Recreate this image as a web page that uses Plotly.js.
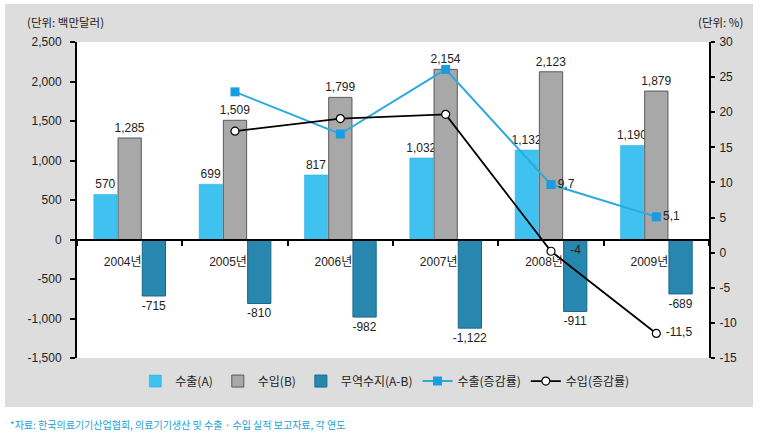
<!DOCTYPE html>
<html>
<head>
<meta charset="utf-8">
<script src="https://cdn.plot.ly/plotly-3.0.1.min.js"></script>
<style>
  html, body { margin: 0; padding: 0; background: #ffffff; }
  #panel { position: absolute; left: 5px; top: 4px; width: 748px; height: 403px; background: #dddddd; }
  #chart { position: absolute; left: 0; top: 0; width: 764px; height: 442px; }
</style>
</head>
<body>
<div id="panel"></div>
<div id="chart"></div>
<script>
// ---- data ----
const years = ['2004년', '2005년', '2006년', '2007년', '2008년', '2009년'];
const exportsA = [570, 699, 817, 1032, 1132, 1190];
const importsB = [1285, 1509, 1799, 2154, 2123, 1879];
const balanceAB = [-715, -810, -982, -1122, -911, -689];
const exportGrowth = [null, 22.9, 16.9, 26.1, 9.7, 5.1];
const importGrowth = [null, 17.3, 19.1, 19.7, 0.2, -11.5];
const exportGrowthLabels = ['', '', '', '', '9,7', '5,1'];
const importGrowthLabels = ['', '', '', '', '\u00a0\u00a0\u00a0\u00a0-4', '\u00a0-11,5'];
const leftTickVals = [-1500, -1000, -500, 0, 500, 1000, 1500, 2000, 2500];
const leftTickText = ['-1,500', '-1,000', '-500', '0', '500', '1,000', '1,500', '2,000', '2,500'];
const rightTickVals = [-15, -10, -5, 0, 5, 10, 15, 20, 25, 30];
const rightTickText = ['-15', '-10', '-5', '0', '5', '10', '15', '20', '25', '30'];

const fmt = v => (v < 0 ? '-' : '') + Math.abs(v).toString().replace(/\B(?=(\d{3})+(?!\d))/g, ',');

const FONT = 'Liberation Sans, Arial, Noto Sans CJK KR, sans-serif';
const KFONT = 'Noto Sans CJK KR, Liberation Sans, sans-serif';
const TXT = '#222222';

const barCommon = {
  type: 'bar',
  textposition: 'outside',
  constraintext: 'none',
  cliponaxis: false,
  textfont: { family: FONT, size: 12, color: TXT },
  hoverinfo: 'skip'
};

const traces = [
  Object.assign({}, barCommon, {
    name: '수출(A)', x: years, y: exportsA, text: exportsA.map(fmt),
    marker: { color: '#40c2f0', line: { color: '#22a8e0', width: 0.5 } }
  }),
  Object.assign({}, barCommon, {
    name: '수입(B)', x: years, y: importsB, text: importsB.map(fmt),
    marker: { color: '#a8a8a8', line: { color: '#5a5a5a', width: 1 } }
  }),
  Object.assign({}, barCommon, {
    name: '무역수지(A-B)', x: years, y: balanceAB, text: balanceAB.map(fmt),
    marker: { color: '#2887af', line: { color: '#17698c', width: 1 } }
  }),
  {
    type: 'scatter', mode: 'lines+markers+text', name: '수출(증감률)',
    x: years, y: exportGrowth, yaxis: 'y2', text: exportGrowthLabels,
    textposition: 'middle right', cliponaxis: false,
    textfont: { family: FONT, size: 12, color: TXT },
    line: { color: '#2aaade', width: 2 },
    marker: { symbol: 'square', size: 9, color: '#1b9ce0' },
    hoverinfo: 'skip'
  },
  {
    type: 'scatter', mode: 'lines+markers+text', name: '수입(증감률)',
    x: years, y: importGrowth, yaxis: 'y2', text: importGrowthLabels,
    textposition: 'middle right', cliponaxis: false,
    textfont: { family: FONT, size: 12, color: TXT },
    line: { color: '#000000', width: 1.8 },
    marker: { symbol: 'circle', size: 8, color: '#ffffff', line: { color: '#000000', width: 1.2 } },
    hoverinfo: 'skip'
  }
];

const layout = {
  width: 764, height: 442,
  margin: { l: 77, r: 55, t: 42, b: 84 },
  paper_bgcolor: 'rgba(0,0,0,0)',
  plot_bgcolor: '#ffffff',
  font: { family: FONT, size: 12, color: TXT },
  barmode: 'group',
  bargap: 0.31,
  bargroupgap: 0.04,
  showlegend: true,
  legend: {
    orientation: 'h', x: 0.487, xanchor: 'center', y: -0.073, yanchor: 'middle',
    bgcolor: 'rgba(0,0,0,0)', font: { family: KFONT, size: 12, color: TXT },
    traceorder: 'normal'
  },
  xaxis: {
    type: 'category', anchor: 'free', position: 0.375,
    range: [-0.5, 5.5], fixedrange: true,
    showline: true, linecolor: '#000000', linewidth: 2,
    ticks: 'outside', tickson: 'boundaries', ticklen: 5, tickwidth: 2, tickcolor: '#000000',
    showgrid: false, zeroline: false,
    ticklabelshift: -7, ticklabelstandoff: 11,
    tickfont: { family: FONT, size: 12, color: TXT }
  },
  yaxis: {
    range: [-1500, 2500], tickvals: leftTickVals, ticktext: leftTickText,
    showline: true, linecolor: '#000000', linewidth: 2,
    ticks: 'outside', ticklen: 5, tickwidth: 2, tickcolor: '#000000',
    showgrid: false, zeroline: false, ticklabelstandoff: 6,
    tickfont: { family: FONT, size: 12, color: TXT }
  },
  yaxis2: {
    range: [-15, 30], tickvals: rightTickVals, ticktext: rightTickText,
    overlaying: 'y', side: 'right', anchor: 'x',
    showline: true, linecolor: '#000000', linewidth: 2,
    ticks: 'outside', ticklen: 4, tickwidth: 2, tickcolor: '#000000',
    showgrid: false, zeroline: false, ticklabelstandoff: 2,
    tickfont: { family: FONT, size: 12, color: TXT }
  },
  annotations: [
    { xref: 'paper', yref: 'paper', x: -0.0823, y: 1.063, xanchor: 'left', yanchor: 'middle',
      text: '(단위: 백만달러)', showarrow: false, font: { family: KFONT, size: 11.5, color: TXT } },
    { xref: 'paper', yref: 'paper', x: 1.057, y: 1.063, xanchor: 'right', yanchor: 'middle',
      text: '(단위: %)', showarrow: false, font: { family: KFONT, size: 11.5, color: TXT } },
    { xref: 'paper', yref: 'paper', x: -0.109, y: -0.212, xanchor: 'left', yanchor: 'middle',
      text: '*자료: 한국의료기기산업협회, 의료기기생산 및 수출 · 수입 실적 보고자료, 각 연도',
      showarrow: false, font: { family: KFONT, size: 10, color: '#1a9fd8' } }
  ]
};

Plotly.newPlot('chart', traces, layout, { staticPlot: true, displayModeBar: false });
</script>
</body>
</html>
